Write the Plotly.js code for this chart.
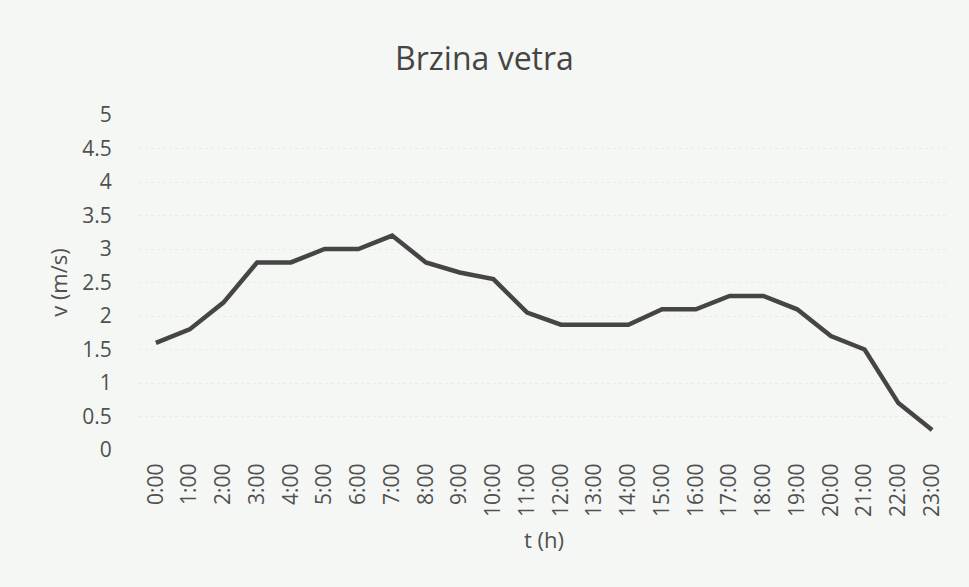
<!DOCTYPE html>
<html>
<head>
<meta charset="utf-8">
<script src="https://cdn.plot.ly/plotly-3.0.1.min.js"></script>
<style>html,body{margin:0;padding:0;background:#f5f7f4;}#chart{width:969px;height:587px;}</style>
</head>
<body>
<div id="chart"></div>
<script>
var hours = ["0:00","1:00","2:00","3:00","4:00","5:00","6:00","7:00","8:00","9:00","10:00","11:00","12:00","13:00","14:00","15:00","16:00","17:00","18:00","19:00","20:00","21:00","22:00","23:00"];
var speed = [1.6,1.8,2.2,2.8,2.8,3.0,3.0,3.2,2.8,2.65,2.55,2.05,1.87,1.87,1.87,2.1,2.1,2.3,2.3,2.1,1.7,1.5,0.7,0.3];
var yTicks = [0,0.5,1,1.5,2,2.5,3,3.5,4,4.5,5];
var yTickText = ["0","0.5","1","1.5","2","2.5","3","3.5","4","4.5","5"];

var fontFam = "Open Sans, Liberation Sans, sans-serif";
var trace = {
  x: hours, y: speed, type: "scatter", mode: "lines",
  line: {color: "#454545", width: 4.5},
  hoverinfo: "x+y"
};
var layout = {
  width: 969, height: 587,
  paper_bgcolor: "#f5f7f4", plot_bgcolor: "#f5f7f4",
  margin: {l: 139, r: 20, t: 115, b: 137},
  showlegend: false,
  title: {text: "Brzina vetra", x: 0.5, xanchor: "center", y: 0.9, yanchor: "middle",
          font: {family: fontFam, size: 32, color: "#454545"}},
  xaxis: {
    type: "category", tickangle: -90, showgrid: false, zeroline: false, showline: false,
    ticks: "outside", ticklen: 4, tickcolor: "rgba(0,0,0,0)",
    tickfont: {family: fontFam, size: 21, color: "#505050"},
    title: {text: "t (h)", font: {family: fontFam, size: 22, color: "#505050"}, standoff: 16},
    range: [-0.5, 23.5], fixedrange: true
  },
  yaxis: {
    range: [0, 5], tickvals: yTicks, ticktext: yTickText, showgrid: true,
    gridcolor: "#e9ece8", gridwidth: 1, griddash: "dot", zeroline: false, showline: false,
    ticks: "outside", ticklen: 22, tickcolor: "rgba(0,0,0,0)",
    tickfont: {family: fontFam, size: 21, color: "#505050"},
    title: {text: "v (m/s)", font: {family: fontFam, size: 22, color: "#505050"}, standoff: 8},
    fixedrange: true
  }
};
Plotly.newPlot("chart", [trace], layout, {displayModeBar: false, staticPlot: true});
</script>
</body>
</html>
